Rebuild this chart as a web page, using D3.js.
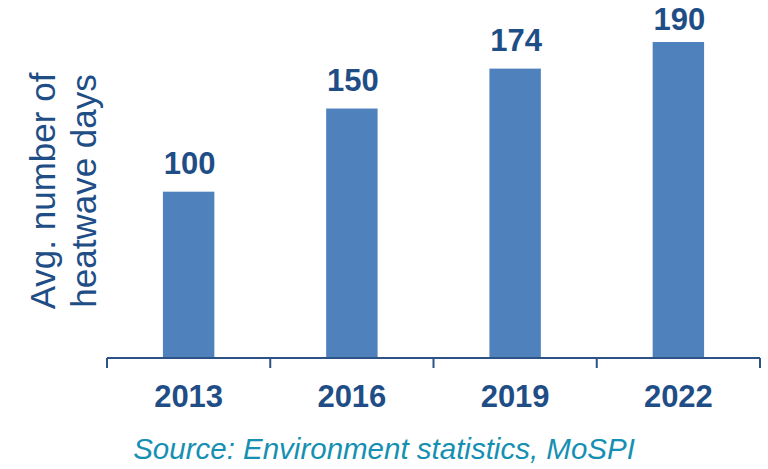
<!DOCTYPE html>
<html>
<head>
<meta charset="utf-8">
<script src="https://cdn.jsdelivr.net/npm/d3@7"></script>
<style>
  html, body { margin: 0; padding: 0; background: #fff; }
  svg { display: block; font-family: "Liberation Sans", Arial, sans-serif; }
</style>
</head>
<body>
<svg id="chart" width="768" height="469"></svg>
<script>
// Average heatwave days by survey year
const years = ["2013", "2016", "2019", "2022"];
const heatwaveDays = [100, 150, 174, 190];
const yLabelLines = ["Avg. number of", "heatwave days"];
const sourceNote = "Source: Environment statistics, MoSPI";

const svg = d3.select("#chart");
const margin = { left: 107, right: 8, top: 42, bottom: 111 };
const W = 768, H = 469;
const baseY = H - margin.bottom;

const x = d3.scaleBand()
  .domain(years)
  .range([margin.left, W - margin.right])
  .paddingInner(0.685)
  .paddingOuter(0.3425);

const y = d3.scaleLinear()
  .domain([0, d3.max(heatwaveDays)])
  .range([baseY, margin.top]);

const textBlue = "#1f4e86";

// bars
svg.append("g").selectAll("rect")
  .data(years)
  .join("rect")
  .attr("x", (d) => x(d))
  .attr("width", x.bandwidth())
  .attr("y", (d, i) => y(heatwaveDays[i]))
  .attr("height", (d, i) => baseY - y(heatwaveDays[i]))
  .attr("fill", "#4f81bd");

// value labels, kept inside the plot area at the top
svg.append("g").selectAll("text")
  .data(years)
  .join("text")
  .attr("x", (d) => x(d) + x.bandwidth() / 2 + 1)
  .attr("y", (d, i) => Math.max(y(heatwaveDays[i]) - 18, 30))
  .attr("text-anchor", "middle")
  .attr("font-size", 31)
  .attr("font-weight", "bold")
  .attr("fill", textBlue)
  .text((d, i) => heatwaveDays[i]);

// x axis: baseline with ticks at category boundaries
const axisG = svg.append("g").attr("stroke", "#2c5286").attr("stroke-width", 2).attr("fill", "none");
const step = x.step();
const bounds = d3.range(years.length + 1).map((i) => margin.left + i * step);
axisG.append("line")
  .attr("x1", bounds[0]).attr("x2", bounds[bounds.length - 1])
  .attr("y1", baseY).attr("y2", baseY);
axisG.selectAll("line.tick")
  .data(bounds)
  .join("line")
  .attr("class", "tick")
  .attr("x1", (d) => d).attr("x2", (d) => d)
  .attr("y1", baseY).attr("y2", baseY + 10);

// year labels
svg.append("g").selectAll("text")
  .data(years)
  .join("text")
  .attr("x", (d) => x(d) + x.bandwidth() / 2)
  .attr("y", baseY + 49)
  .attr("text-anchor", "middle")
  .attr("font-size", 31)
  .attr("font-weight", "bold")
  .attr("fill", textBlue)
  .text((d) => d);

// y-axis title, two rotated lines
const yt = svg.append("text")
  .attr("transform", "translate(55,191) rotate(-90)")
  .attr("text-anchor", "middle")
  .attr("font-size", 35)
  .attr("fill", textBlue);
yLabelLines.forEach((line, i) => {
  yt.append("tspan").attr("x", 0).attr("dy", i === 0 ? 0 : 41).text(line);
});

// source note
svg.append("text")
  .attr("x", 384)
  .attr("y", 459)
  .attr("text-anchor", "middle")
  .attr("font-size", 29.5)
  .attr("font-style", "italic")
  .attr("fill", "#1590b2")
  .text(sourceNote);
</script>
</body>
</html>
